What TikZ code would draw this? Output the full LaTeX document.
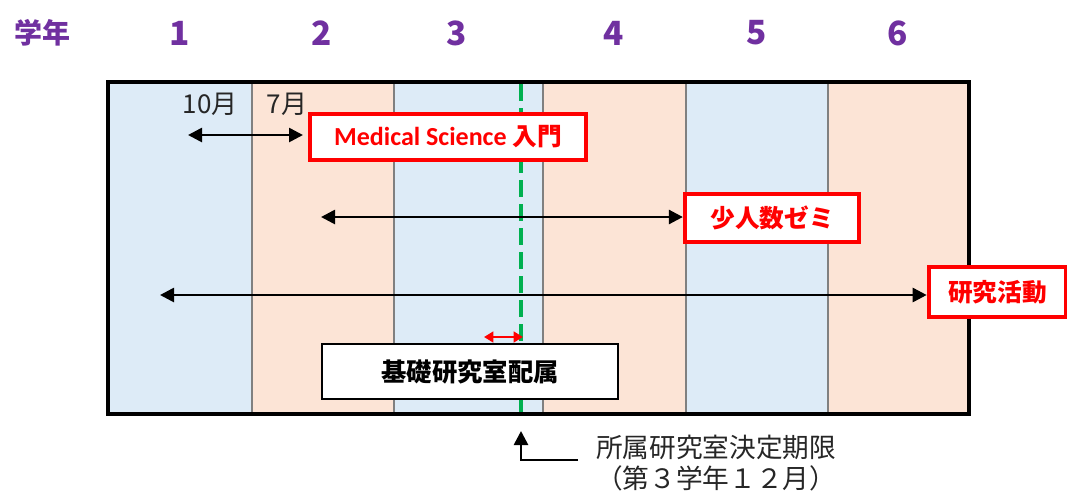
\documentclass[tikz,border=0pt]{standalone}
\usepackage{fontspec}
\setmainfont{Noto Sans CJK JP}
\newfontfamily\jp{Noto Sans CJK JP}
\newfontfamily\lat{Carlito}
\usetikzlibrary{arrows.meta}
\definecolor{cblue}{HTML}{DDEBF7}
\definecolor{corange}{HTML}{FCE4D6}
\definecolor{cpurple}{HTML}{7030A0}
\definecolor{cgreen}{HTML}{00B050}
\definecolor{cred}{HTML}{FF0000}
\definecolor{ctext}{HTML}{262626}
\tikzset{
  yearlbl/.style={text=cpurple, font=\jp\bfseries\fontsize{21}{24}\selectfont, inner sep=0pt},
  monthlbl/.style={text=ctext, font=\jp\fontsize{19.5}{20}\selectfont, inner sep=0pt},
  redbox/.style={draw=cred, line width=3.2pt, fill=white, text=cred, font=\jp\bfseries\fontsize{18.5}{20}\selectfont, inner sep=0pt},
  blackbox/.style={draw=black, line width=1.6pt, fill=white, text=black, font=\jp\bfseries\fontsize{19}{20}\selectfont, inner sep=0pt},
  dblarrow/.style={line width=2pt, {Triangle[length=10.5pt,width=10.5pt]}-{Triangle[length=10.5pt,width=10.5pt]}},
  onearrow/.style={line width=2pt, -{Triangle[length=10.5pt,width=10.5pt]}},
  notelbl/.style={text=ctext, font=\jp\fontsize{20}{20}\selectfont, inner sep=0pt, anchor=west},
  divider/.style={draw=gray, line width=1pt},
}
\begin{document}
\begin{tikzpicture}[x=0.75pt,y=-0.75pt]
\useasboundingbox (0,0) rectangle (1067,494);
\fill[white] (0,0) rectangle (1067,494);
% columns
\fill[cblue] (108,82) rectangle (252,414);
\fill[corange] (252,82) rectangle (394,414);
\fill[cblue] (394,82) rectangle (543,414);
\fill[corange] (543,82) rectangle (686,414);
\fill[cblue] (686,82) rectangle (828,414);
\fill[corange] (828,82) rectangle (969,414);
\foreach \xx in {252,394,543,686,828} \draw[divider] (\xx,82) -- (\xx,414);
% green dashed line
\draw[cgreen, line width=3pt, dash pattern=on 13pt off 5pt] (521,84) -- (521,412);
% frame
\draw[line width=3.2pt] (108,82) rectangle (969,414);
% year labels
\node[yearlbl] (gakunen) at (42,33) {学年};
\node[yearlbl] (y1) at (180,33) {\fontsize{25}{28}\selectfont 1};
\node[yearlbl] (y2) at (322,33) {\fontsize{25}{28}\selectfont 2};
\node[yearlbl] (y3) at (457,33) {\fontsize{25}{28}\selectfont 3};
\node[yearlbl] (y4) at (614,33) {\fontsize{25}{28}\selectfont 4};
\node[yearlbl] (y5) at (757,33) {\fontsize{25}{28}\selectfont 5};
\node[yearlbl] (y6) at (898,33) {\fontsize{25}{28}\selectfont 6};
% month labels
\node[monthlbl] (m10) at (210,104) {10月};
\node[monthlbl] (m7) at (287,104) {7月};
% boxes
\node[redbox, minimum width=207pt, minimum height=34.5pt] (med) at (448,137) {{\lat\bfseries\fontsize{19.5}{20}\selectfont Medical Science }入門};
\node[redbox, minimum width=130.5pt, minimum height=36pt] (semi) at (772,218) {少人数ゼミ};
\node[redbox, minimum width=103pt, minimum height=37.5pt] (res) at (997.5,292) {研究活動};
\node[blackbox, minimum width=222pt, minimum height=41pt] (kiso) at (470,371.5) {基礎研究室配属};
% arrows
\coordinate (a1l) at (188,135);
\coordinate (a1r) at (303,135);
\draw[dblarrow] (a1l) -- (a1r);
\coordinate (a2l) at (321,217);
\draw[dblarrow] (a2l) -- (semi.west |- a2l);
\coordinate (a3l) at (160,295);
\draw[dblarrow] (a3l) -- (res.west |- a3l);
\coordinate (r1) at (484,337);
\coordinate (r2) at (523,337);
\draw[cred, line width=1.8pt, {Triangle[length=7pt,width=8pt]}-{Triangle[length=7pt,width=8pt]}] (r1) -- (r2);
% deadline pointer
\coordinate (p0) at (578,460);
\coordinate (p1) at (521,460);
\coordinate (p2) at (521,431);
\draw[onearrow] (p0) -- (p1) -- (p2);
\node[notelbl] (note1) at (596,447) {所属研究室決定期限};
\node[notelbl] (note2) at (596,478) {（第３学年１２月）};
\end{tikzpicture}
\end{document}
